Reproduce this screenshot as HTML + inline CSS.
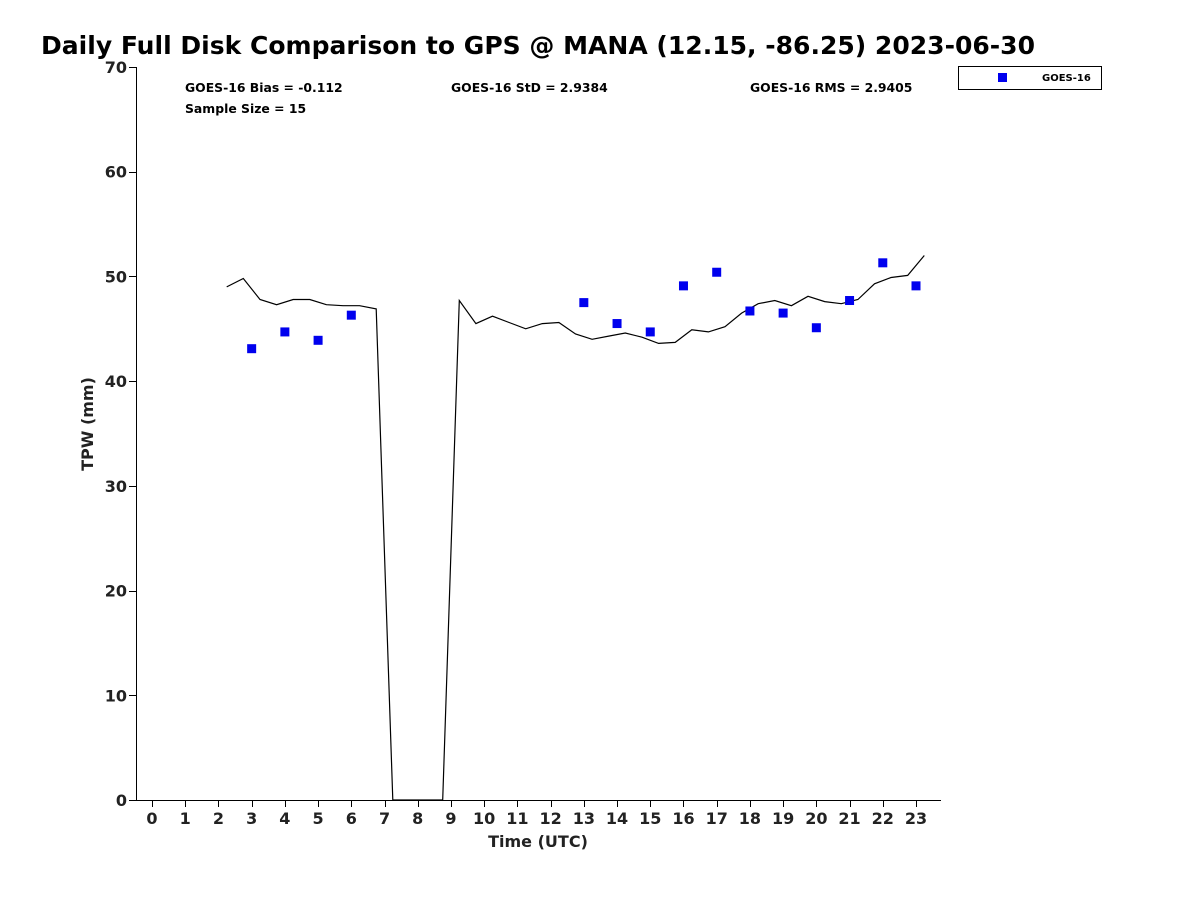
<!DOCTYPE html>
<html><head><meta charset="utf-8"><style>
body{margin:0;background:#fff;}
svg text{font-family:"DejaVu Sans","Liberation Sans",sans-serif;font-weight:bold;fill:#000;}
</style></head><body>
<svg id="chart" width="1200" height="900" viewBox="0 0 1200 900" xmlns="http://www.w3.org/2000/svg">
<rect width="1200" height="900" fill="#fff"/>
<text x="41" y="54" font-size="25" textLength="994" lengthAdjust="spacingAndGlyphs">Daily Full Disk Comparison to GPS @ MANA (12.15, -86.25) 2023-06-30</text>
<g id="axes"></g>
<g id="marks"></g>
<text x="185" y="92" font-size="12.4">GOES-16 Bias = -0.112</text>
<text x="185" y="113" font-size="12.4">Sample Size = 15</text>
<text x="451" y="92" font-size="12.4">GOES-16 StD = 2.9384</text>
<text x="750" y="92" font-size="12.4">GOES-16 RMS = 2.9405</text>
<g>
<rect x="958.5" y="66.5" width="143" height="23" fill="#fff" stroke="#000" stroke-width="1"/>
<rect x="998" y="73" width="9" height="9" fill="#0000ee"/>
<text x="1042" y="81" font-size="10">GOES-16</text>
</g>
<text x="538" y="847" font-size="16" fill="#222" text-anchor="middle" style="fill:#222">Time (UTC)</text>
<text transform="translate(93,424) rotate(-90)" font-size="16" text-anchor="middle" style="fill:#222">TPW (mm)</text>
</svg>
<script>
const lineTimes = [2.25,2.75,3.25,3.75,4.25,4.75,5.25,5.75,6.25,6.75,7.25,7.75,8.25,8.75,9.25,9.75,10.25,10.75,11.25,11.75,12.25,12.75,13.25,13.75,14.25,14.75,15.25,15.75,16.25,16.75,17.25,17.75,18.25,18.75,19.25,19.75,20.25,20.75,21.25,21.75,22.25,22.75,23.25];
const lineValues = [49.0,49.8,47.8,47.3,47.8,47.8,47.3,47.2,47.2,46.9,0,0,0,0,47.7,45.5,46.2,45.6,45.0,45.5,45.6,44.5,44.0,44.3,44.6,44.2,43.6,43.7,44.9,44.7,45.2,46.5,47.4,47.7,47.2,48.1,47.6,47.4,47.8,49.3,49.9,50.1,52.0];
const goesTimes = [3,4,5,6,13,14,15,16,17,18,19,20,21,22,23];
const goesValues = [43.1,44.7,43.9,46.3,47.5,45.5,44.7,49.1,50.4,46.7,46.5,45.1,47.7,51.3,49.1];
const xTicks = [0,1,2,3,4,5,6,7,8,9,10,11,12,13,14,15,16,17,18,19,20,21,22,23];
const yTicks = [0,10,20,30,40,50,60,70];

const NS = "http://www.w3.org/2000/svg";
const L=136,R=941,T=67,B=800;
const xs = t => 152 + t*(916-152)/23;
const ys = v => B - v*(B-T)/70;
function mk(tag, attrs, parent){const e=document.createElementNS(NS,tag);for(const k in attrs)e.setAttribute(k,attrs[k]);parent.appendChild(e);return e;}
const axes=document.getElementById('axes'), marks=document.getElementById('marks');
let a=mk('line',{x1:L,y1:B+0.5,x2:R,y2:B+0.5,stroke:'#000','stroke-width':1},axes);


a=mk('line',{x1:L+0.5,y1:T,x2:L+0.5,y2:B,stroke:'#000','stroke-width':1},axes);


xTicks.forEach(t=>{
  const x=Math.round(xs(t))+0.5;
  const tk=mk('line',{x1:x,y1:B,x2:x,y2:B+7,stroke:'#000'},axes);
  
  
  const tx=mk('text',{x:xs(t),y:824,'font-size':16,'text-anchor':'middle',style:'fill:#222'},axes);
  tx.textContent=t;
  
  
});
yTicks.forEach(v=>{
  const y=Math.round(ys(v))+0.5;
  const tk=mk('line',{x1:L-7,y1:y,x2:L,y2:y,stroke:'#000'},axes);
  
  
  const tx=mk('text',{x:127,y:ys(v)+6,'font-size':16,'text-anchor':'end',style:'fill:#222'},axes);
  tx.textContent=v;
  
  
});
const pts=lineTimes.map((t,i)=>xs(t).toFixed(1)+','+ys(lineValues[i]).toFixed(1)).join(' ');
const pl=mk('polyline',{points:pts,fill:'none',stroke:'#000','stroke-width':1.2},marks);


goesTimes.forEach((t,i)=>{
  const r=mk('rect',{x:xs(t)-4.5,y:ys(goesValues[i])-4.5,width:9,height:9,fill:'#0000ee'},marks);
  
  
});
</script>
</body></html>
